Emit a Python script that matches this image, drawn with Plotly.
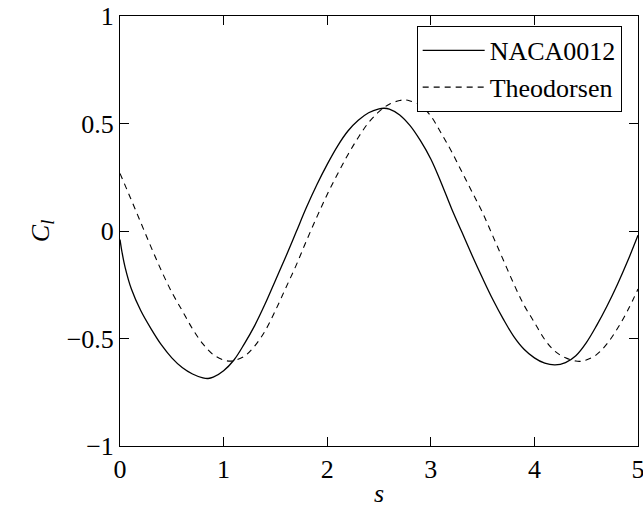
import plotly.graph_objects as go

# NACA0012 (solid), values
s_naca = [0.0, 0.02, 0.05, 0.11, 0.2, 0.3, 0.4, 0.5, 0.6, 0.7, 0.8, 0.85, 0.9, 1.0, 1.1, 1.2,
          1.3, 1.4, 1.5, 1.6, 1.7, 1.8, 1.9, 2.0, 2.1, 2.2, 2.3, 2.4, 2.5, 2.55, 2.6, 2.7,
          2.8, 2.9, 3.0, 3.1, 3.2, 3.3, 3.4, 3.5, 3.6, 3.7, 3.8, 3.9, 4.0, 4.1, 4.2, 4.3,
          4.4, 4.5, 4.6, 4.7, 4.8, 4.9, 5.0]
cl_naca = [-0.04, -0.10, -0.17, -0.27, -0.37, -0.455, -0.53, -0.59, -0.635, -0.665, -0.683,
           -0.686, -0.68, -0.65, -0.60, -0.525, -0.44, -0.34, -0.23, -0.12, -0.005, 0.11,
           0.215, 0.31, 0.395, 0.465, 0.515, 0.55, 0.568, 0.571, 0.567, 0.54, 0.49, 0.42,
           0.335, 0.225, 0.105, -0.005, -0.115, -0.22, -0.32, -0.41, -0.49, -0.55, -0.59,
           -0.615, -0.623, -0.612, -0.58, -0.52, -0.44, -0.35, -0.25, -0.14, -0.02]

# Theodorsen (dashed), values
s_theo = [0.0, 0.1, 0.2, 0.3, 0.4, 0.5, 0.6, 0.7, 0.8, 0.9, 1.0, 1.05, 1.1, 1.2, 1.3, 1.4,
          1.5, 1.6, 1.7, 1.8, 1.9, 2.0, 2.1, 2.2, 2.3, 2.4, 2.5, 2.6, 2.7, 2.75, 2.8, 2.9,
          3.0, 3.1, 3.2, 3.3, 3.4, 3.5, 3.6, 3.7, 3.8, 3.9, 4.0, 4.1, 4.2, 4.3, 4.4, 4.45,
          4.5, 4.6, 4.7, 4.8, 4.9, 5.0]
cl_theo = [0.268, 0.155, 0.04, -0.075, -0.185, -0.285, -0.37, -0.455, -0.525, -0.575, -0.6,
           -0.605, -0.603, -0.583, -0.535, -0.465, -0.37, -0.265, -0.16, -0.045, 0.065, 0.17,
           0.265, 0.355, 0.435, 0.505, 0.555, 0.59, 0.607, 0.61, 0.605, 0.585, 0.535, 0.455,
           0.37, 0.275, 0.18, 0.085, -0.025, -0.135, -0.245, -0.345, -0.425, -0.505, -0.56,
           -0.59, -0.605, -0.606, -0.6, -0.575, -0.525, -0.455, -0.37, -0.27]

x_ticks = [0, 1, 2, 3, 4, 5]
y_ticks = [-1, -0.5, 0, 0.5, 1]
y_tick_text = ["\u22121", "\u22120.5", "0", "0.5", "1"]

FONT = "Times New Roman, Liberation Serif, Tinos, DejaVu Serif, serif"

fig = go.Figure()
fig.add_trace(go.Scatter(x=s_naca, y=cl_naca, mode="lines", name="NACA0012",
                         legendgroup="a",
                         line=dict(color="black", width=1.3, shape="spline", smoothing=1.0)))
fig.add_trace(go.Scatter(x=s_theo, y=cl_theo, mode="lines", name="Theodorsen",
                         legendgroup="b",
                         line=dict(color="black", width=1.1, shape="spline", smoothing=1.0,
                                   dash="6px,5px")))

axis_common = dict(showgrid=False, zeroline=False, showline=True, linecolor="black",
                   linewidth=1, mirror="ticks", ticks="inside", ticklen=9, tickwidth=1,
                   tickcolor="black", ticklabeloverflow="allow", automargin=False,
                   tickfont=dict(family=FONT, size=26, color="black"))

fig.update_layout(
    width=643, height=509,
    margin=dict(l=120, r=5, t=16, b=63),
    paper_bgcolor="white", plot_bgcolor="white",
    font=dict(family=FONT, size=26, color="black"),
    showlegend=True,
    legend=dict(x=0.9685, y=0.977, xanchor="right", yanchor="top",
                bgcolor="white", bordercolor="black", borderwidth=1,
                font=dict(family=FONT, size=26, color="black"),
                tracegroupgap=0, itemwidth=62),
    xaxis=dict(range=[0, 5], tickvals=x_ticks, ticktext=[str(v) for v in x_ticks],
               title=dict(text="<i>s</i>", font=dict(family=FONT, size=26), standoff=0),
               **axis_common),
    yaxis=dict(range=[-1, 1], tickvals=y_ticks, ticktext=y_tick_text,
               title=dict(text="<i>C</i><sub><i>l</i></sub>", font=dict(family=FONT, size=26),
                          standoff=9),
               **axis_common),
)

fig.write_html("out.html")
